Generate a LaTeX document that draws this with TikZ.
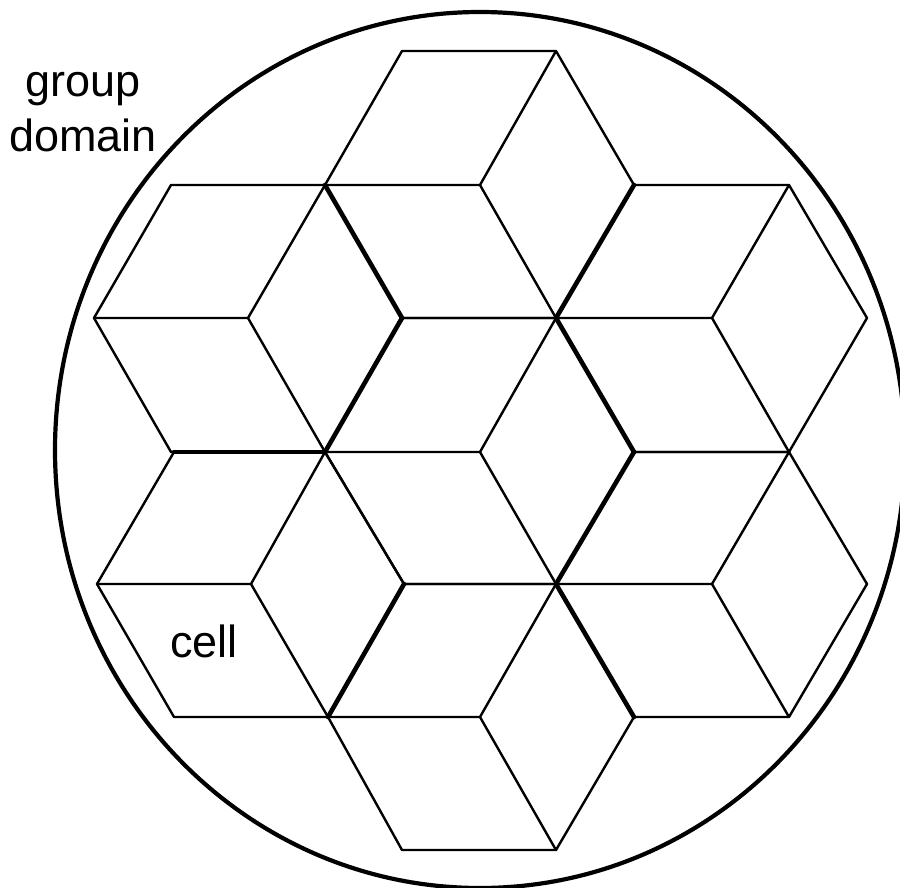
\documentclass[tikz,border=0pt]{standalone}
\usepackage{fontspec}
\setmainfont{Liberation Sans}
\tikzset{
  px/.style={x=1pt,y=-1pt},
  edge/.style={draw=black,line width=2.4pt,line cap=round,line join=round},
  heavy/.style={draw=black,line width=4.6pt,line cap=round},
  ring/.style={draw=black,line width=4.2pt},
  lbl/.style={font=\fontsize{45}{55}\selectfont,inner sep=0pt,align=center}
}
\begin{document}
\begin{tikzpicture}[px]
\useasboundingbox (0,0) rectangle (900,888);
\clip (0,0) rectangle (900,888);
\fill[white] (0,0) rectangle (900,888);
\draw[ring] (480,450) ellipse [x radius=425,y radius=438];
% top cube
\coordinate (a1) at (402,51); \coordinate (a2) at (556,51); \coordinate (a3) at (634,185);
\coordinate (a4) at (556,318); \coordinate (a5) at (402,318); \coordinate (a6) at (325,185); \coordinate (ac) at (480,185);
\draw[edge] (a6)--(a1)--(a2)--(a3)--(a4)--(a5)--cycle;
\draw[edge] (ac)--(a6) (ac)--(a2) (ac)--(a4);
% upper left
\coordinate (b1) at (171,185); \coordinate (b2) at (325,185); \coordinate (b3) at (402,318);
\coordinate (b4) at (325,452); \coordinate (b5) at (171,452); \coordinate (b6) at (94,318); \coordinate (bc) at (248,318);
\draw[edge] (b1)--(b2)--(b3)--(b4)--(b5)--(b6)--cycle;
\draw[edge] (bc)--(b6) (bc)--(b2) (bc)--(b4);
% upper right
\coordinate (c1) at (634,185); \coordinate (c2) at (789,185); \coordinate (c3) at (867,318);
\coordinate (c4) at (789,452); \coordinate (c5) at (634,452); \coordinate (c6) at (556,318); \coordinate (cc) at (712,318);
\draw[edge] (c1)--(c2)--(c3)--(c4)--(c5)--(c6)--cycle;
\draw[edge] (cc)--(c6) (cc)--(c2) (cc)--(c4);
% centre
\coordinate (d1) at (402,318); \coordinate (d2) at (556,318); \coordinate (d3) at (634,452);
\coordinate (d4) at (556,584); \coordinate (d5) at (404,584); \coordinate (d6) at (325,452); \coordinate (dc) at (480,452);
\draw[edge] (d1)--(d2)--(d3)--(d4)--(d5)--(d6)--cycle;
\draw[edge] (dc)--(d6) (dc)--(d2) (dc)--(d4);
% lower left
\coordinate (e1) at (174,452); \coordinate (e2) at (325,452); \coordinate (e3) at (404,584);
\coordinate (e4) at (328,717); \coordinate (e5) at (174,717); \coordinate (e6) at (97,584); \coordinate (ec) at (251,584);
\draw[edge] (e1)--(e2)--(e3)--(e4)--(e5)--(e6)--cycle;
\draw[edge] (ec)--(e6) (ec)--(e2) (ec)--(e4);
% lower right
\coordinate (f1) at (634,452); \coordinate (f2) at (789,452); \coordinate (f3) at (867,584);
\coordinate (f4) at (789,717); \coordinate (f5) at (634,717); \coordinate (f6) at (556,584); \coordinate (fc) at (712,584);
\draw[edge] (f1)--(f2)--(f3)--(f4)--(f5)--(f6)--cycle;
\draw[edge] (fc)--(f6) (fc)--(f2) (fc)--(f4);
% bottom
\coordinate (g1) at (404,584); \coordinate (g2) at (556,584); \coordinate (g3) at (634,717);
\coordinate (g4) at (556,850); \coordinate (g5) at (402,850); \coordinate (g6) at (328,717); \coordinate (gc) at (480,717);
\draw[edge] (g1)--(g2)--(g3)--(g4)--(g5)--(g6)--cycle;
\draw[edge] (gc)--(g6) (gc)--(g2) (gc)--(g4);
% heavy boundaries
\draw[heavy] (b2)--(b3);
\draw[heavy] (b3)--(b4);
\draw[heavy] (e1)--(e2);
\draw[heavy] (a3)--(a4);
\draw[heavy] (d2)--(d3);
\draw[heavy] (d3)--(d4);
\draw[heavy] (g2)--(g3);
\draw[heavy] (g1)--(g6);
% labels
\node[lbl] (grp) at (83,112) {group\\domain};
\node[lbl] (cl) at (204,641) {cell};
\end{tikzpicture}
\end{document}
